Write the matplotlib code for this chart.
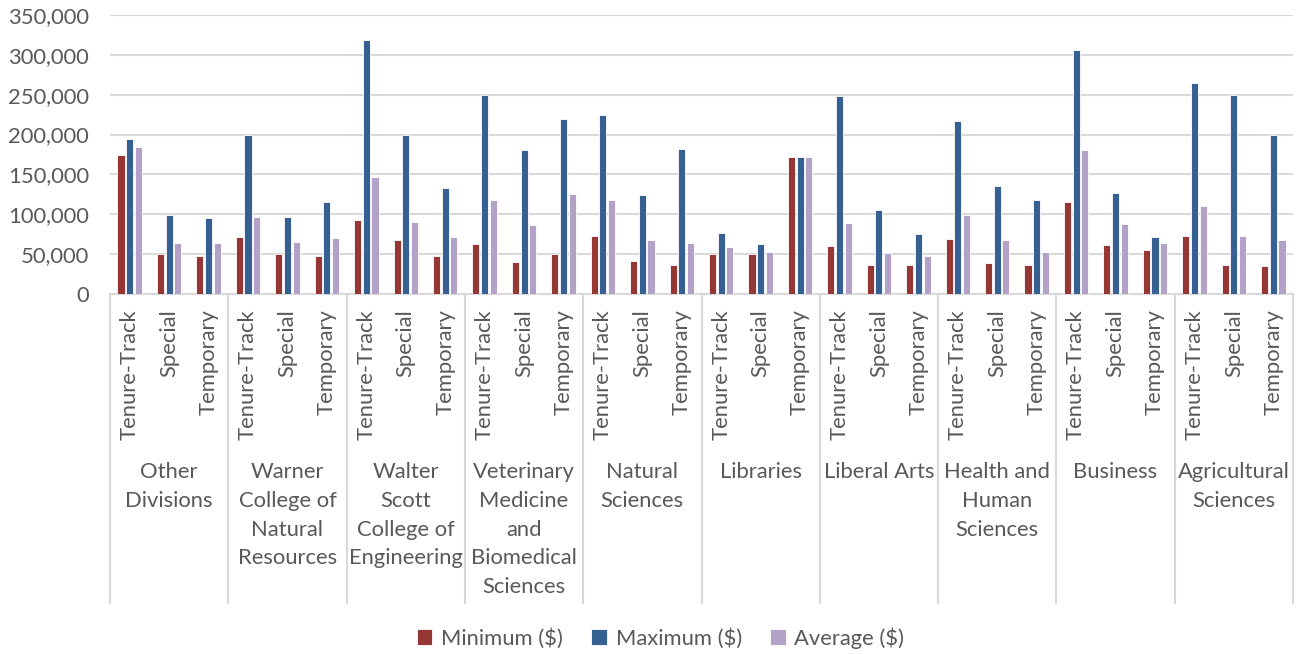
import matplotlib
matplotlib.use("Agg")
import matplotlib.pyplot as plt
import matplotlib.transforms as mtransforms
from matplotlib.ticker import FuncFormatter

plt.rcParams['font.family'] = ['Lato', 'DejaVu Sans']

divisions = ["Other\nDivisions", "Warner\nCollege of\nNatural\nResources",
             "Walter\nScott\nCollege of\nEngineering",
             "Veterinary\nMedicine\nand\nBiomedical\nSciences",
             "Natural\nSciences", "Libraries", "Liberal Arts",
             "Health and\nHuman\nSciences", "Business", "Agricultural\nSciences"]
tracks = ["Tenure-Track", "Special", "Temporary"]

# values per division, in order Tenure-Track, Special, Temporary
minimum = [175000, 50000, 48000,
           71500, 50000, 48000,
           93000, 67500, 48000,
           62500, 40000, 50000,
           72500, 41000, 36000,
           50000, 50000, 172000,
           60000, 37000, 36000,
           69500, 38500, 37000,
           116000, 61500, 55000,
           72500, 36000, 34500]
maximum = [194000, 99500, 95500,
           200000, 96500, 116000,
           319000, 200000, 133000,
           250000, 181000, 219000,
           224000, 124000, 182000,
           76500, 62500, 172000,
           248500, 105000, 75500,
           217500, 136000, 118000,
           306000, 126500, 71500,
           265000, 250000, 199000]
average = [185000, 64500, 63500,
           97000, 65500, 70500,
           147000, 90500, 71500,
           118000, 87000, 125000,
           117500, 68000, 64500,
           59500, 52500, 172000,
           89500, 51500, 47500,
           99000, 68000, 52500,
           180500, 87500, 64500,
           111000, 72500, 68000]

series = [("Minimum (\\$)", minimum, "#953735"),
          ("Maximum (\\$)", maximum, "#366092"),
          ("Average (\\$)", average, "#b3a2c7")]

txt = "#595959"
fs = 15.8
fig = plt.figure(figsize=(13.03, 6.54), dpi=100)
ax = fig.add_axes([110/1303, 1-294/654, 1183/1303, 279/654])

n = len(minimum)
xs = list(range(n))
w = 0.18
for k, (name, vals, col) in enumerate(series):
    ax.bar([x + (k-1)*0.22 for x in xs], vals, width=w, color=col,
           edgecolor="white", linewidth=0.6, label=name, zorder=3)

ax.set_xlim(-0.5, n-0.5)
ax.set_ylim(0, 350000)
ax.set_yticks(range(0, 350001, 50000))
ax.yaxis.set_major_formatter(FuncFormatter(lambda v, p: f"{int(v):,}"))
ax.tick_params(axis='y', length=0, labelsize=fs, colors=txt, pad=15)
ax.set_xticks([])
ax.grid(axis='y', color="#d9d9d9", linewidth=1.5, zorder=0)
for s in ["top", "right", "left"]:
    ax.spines[s].set_visible(False)
ax.spines["bottom"].set_color("#d9d9d9")
ax.spines["bottom"].set_linewidth(1.5)

trans = mtransforms.blended_transform_factory(ax.transData, ax.transAxes)
for i in range(len(divisions)+1):
    ax.plot([i*3-0.5, i*3-0.5], [0, -1.107], transform=trans, color="#d9d9d9",
            linewidth=1.5, clip_on=False)
for i, d in enumerate(divisions):
    for j, t in enumerate(tracks):
        ax.text(i*3+j, -0.055, t, transform=trans, rotation=90, ha='center',
                va='top', fontsize=fs, color=txt)
    ax.text(i*3+1, -0.603, d, transform=trans, ha='center', va='top',
            fontsize=fs, color=txt, linespacing=1.54)

fig.legend(loc='lower center', bbox_to_anchor=(0.507, -0.022), ncol=3, frameon=False,
           fontsize=fs, handlelength=0.7, handleheight=0.7, handletextpad=0.4,
           columnspacing=1.3, labelcolor=txt)

fig.savefig("out.png", dpi=100)
